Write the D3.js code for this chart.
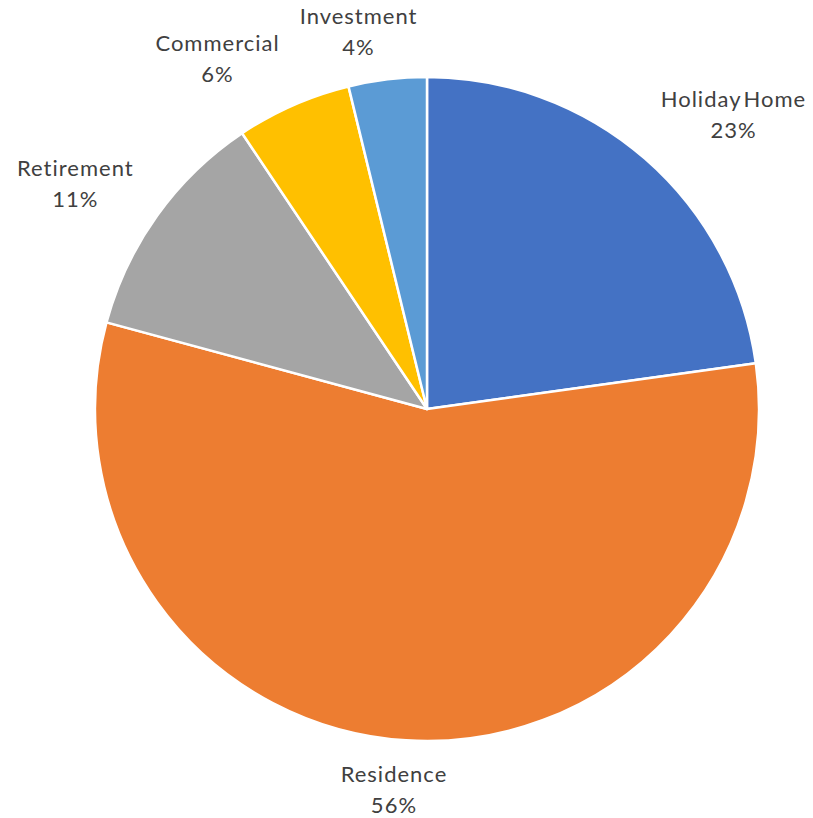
<!DOCTYPE html>
<html>
<head>
<meta charset="utf-8">
<script src="https://cdn.jsdelivr.net/npm/d3@7"></script>
<style>
  body { margin: 0; background: #fff; }
  svg { display: block; }
  .lbl { font-family: Lato, "Open Sans", sans-serif; font-size: 22px; fill: #404040; letter-spacing: 1px; word-spacing: -4px; }
</style>
</head>
<body>
<svg id="chart"></svg>
<script>
// data (share of total, %)
const categories = ['Holiday Home', 'Residence', 'Retirement', 'Commercial', 'Investment'];
const values = [22.8, 56.4, 11.4, 5.6, 3.8];
const colors = ['#4472C4', '#ED7D31', '#A5A5A5', '#FFC000', '#5B9BD5'];

const w = 813, h = 818;
const cx = 427, cy = 409, r = 332;

const svg = d3.select('#chart').attr('width', w).attr('height', h);
const g = svg.append('g').attr('transform', `translate(${cx},${cy})`);

const total = d3.sum(values);
const rows = categories.map((c, i) => ({ name: c, value: values[i], color: colors[i] }));

const pie = d3.pie().sort(null).value(d => d.value);
const arc = d3.arc().innerRadius(0).outerRadius(r);
const arcs = pie(rows);

g.selectAll('path.slice')
  .data(arcs)
  .join('path')
    .attr('class', 'slice')
    .attr('d', arc)
    .attr('fill', d => d.data.color)
    .attr('stroke', '#fff')
    .attr('stroke-width', 2.5)
    .attr('stroke-linejoin', 'round');

// labels outside the pie, box corner pushed along the mid angle
const clamp = v => Math.max(-1, Math.min(1, v));
const nudge = { 'Holiday Home': [0, 3], 'Retirement': [-4, 10], 'Commercial': [-16, 4], 'Investment': [-12, 4], 'Residence': [-4, -4] };

arcs.forEach(d => {
  const a = (d.startAngle + d.endAngle) / 2;
  const s = Math.sin(a), c = Math.cos(a);
  const lg = g.append('g');
  const t = lg.append('text').attr('class', 'lbl').attr('text-anchor', 'middle');
  t.append('tspan').attr('x', 0).attr('y', 0).text(d.data.name);
  t.append('tspan').attr('x', 0).attr('y', 31).text(Math.round(d.data.value / total * 100) + '%');
  const bb = t.node().getBBox();
  const R = r + 24;
  const px = s * R, py = -c * R;
  const n = nudge[d.data.name] || [0, 0];
  const mx = px + clamp(s * 2) * bb.width / 2 + n[0];
  const my = py - clamp(c * 2) * bb.height / 2 + n[1];
  lg.attr('transform', `translate(${mx - (bb.x + bb.width / 2)},${my - (bb.y + bb.height / 2)})`);
});
</script>
</body>
</html>
